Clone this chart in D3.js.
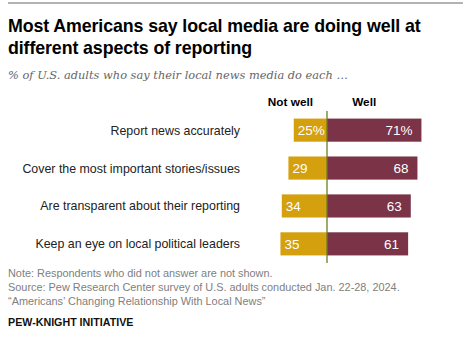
<!DOCTYPE html>
<html>
<head>
<meta charset="utf-8">
<script src="https://cdn.jsdelivr.net/npm/d3@7"></script>
<style>
  body { margin: 0; background: #fff; }
  text { font-family: "Liberation Sans", Arial, sans-serif; }
</style>
</head>
<body>
<svg width="471" height="345"></svg>
<script>
var categories = [
  'Report news accurately',
  'Cover the most important stories/issues',
  'Are transparent about their reporting',
  'Keep an eye on local political leaders'
];
var notWell = [25, 29, 34, 35];
var well = [71, 68, 63, 61];

var svg = d3.select('svg');
var center = 327;

// header rule + titles
svg.append('line').attr('x1', 8).attr('x2', 463).attr('y1', 3).attr('y2', 3)
  .attr('stroke', '#b3b3b3').attr('stroke-width', 2);
svg.append('text').attr('x', 8).attr('y', 32).text('Most Americans say local media are doing well at')
  .style('font-weight', 'bold').style('font-size', '17.8px').style('letter-spacing', '-0.1px').attr('fill', '#000');
svg.append('text').attr('x', 8).attr('y', 54).text('different aspects of reporting')
  .style('font-weight', 'bold').style('font-size', '17.8px').style('letter-spacing', '-0.1px').attr('fill', '#000');
svg.append('text').attr('x', 8).attr('y', 79).text('% of U.S. adults who say their local news media do each \u2026')
  .style('font-family', '"DejaVu Serif", Georgia, serif').style('font-style', 'italic')
  .style('font-size', '11.4px').attr('fill', '#666');

// scales
var x = d3.scaleLinear().domain([-100, 100]).range([center - 133, center + 133]);
var y = d3.scaleBand().domain(categories).range([111, 263]).paddingInner(0.39).paddingOuter(0.2);

svg.append('text').attr('x', x(-27.5)).attr('y', 106).attr('text-anchor', 'middle')
  .text('Not well').style('font-weight', 'bold').style('font-size', '11.8px');
svg.append('text').attr('x', x(28)).attr('y', 106).attr('text-anchor', 'middle')
  .text('Well').style('font-weight', 'bold').style('font-size', '11.8px');

var rows = svg.selectAll('.row').data(categories).enter().append('g').attr('class', 'row');

rows.append('text').attr('x', 240).attr('y', function(d){ return y(d) + y.bandwidth() / 2 + 4.5; })
  .attr('text-anchor', 'end').style('font-size', '12.4px').attr('fill', '#222')
  .text(function(d){ return d; });

rows.append('rect')
  .attr('x', function(d, i){ return x(-notWell[i]); })
  .attr('y', function(d){ return y(d); })
  .attr('width', function(d, i){ return x(0) - x(-notWell[i]); })
  .attr('height', y.bandwidth())
  .attr('fill', '#d4a00e');

rows.append('rect')
  .attr('x', x(0))
  .attr('y', function(d){ return y(d); })
  .attr('width', function(d, i){ return x(well[i]) - x(0); })
  .attr('height', y.bandwidth())
  .attr('fill', '#7a3347');

rows.append('text')
  .attr('x', function(d, i){ return x(-notWell[i]) + 4; })
  .attr('y', function(d){ return y(d) + y.bandwidth() / 2 + 5; })
  .attr('fill', '#fff').style('font-size', '13.5px')
  .text(function(d, i){ return i === 0 ? notWell[i] + '%' : notWell[i]; });

rows.append('text')
  .attr('x', function(d, i){ return x(well[i]) - 9; })
  .attr('y', function(d){ return y(d) + y.bandwidth() / 2 + 5; })
  .attr('text-anchor', 'end')
  .attr('fill', '#fff').style('font-size', '13.5px')
  .text(function(d, i){ return i === 0 ? well[i] + '%' : well[i]; });

svg.append('line').attr('x1', x(0)).attr('x2', x(0)).attr('y1', 111).attr('y2', 263)
  .attr('stroke', '#6e7d1e').attr('stroke-width', 1.3);

// footer
var foot = [
  'Note: Respondents who did not answer are not shown.',
  'Source: Pew Research Center survey of U.S. adults conducted Jan. 22-28, 2024.',
  '\u201cAmericans\u2019 Changing Relationship With Local News\u201d'
];
svg.selectAll('.foot').data(foot).enter().append('text')
  .attr('x', 8).attr('y', function(d, i){ return 276.5 + i * 14.3; })
  .style('font-size', '10.9px').attr('fill', '#808080').text(function(d){ return d; });
svg.append('text').attr('x', 8).attr('y', 326).text('PEW-KNIGHT INITIATIVE')
  .style('font-weight', 'bold').style('font-size', '10.7px').attr('fill', '#111');
</script>
</body>
</html>
